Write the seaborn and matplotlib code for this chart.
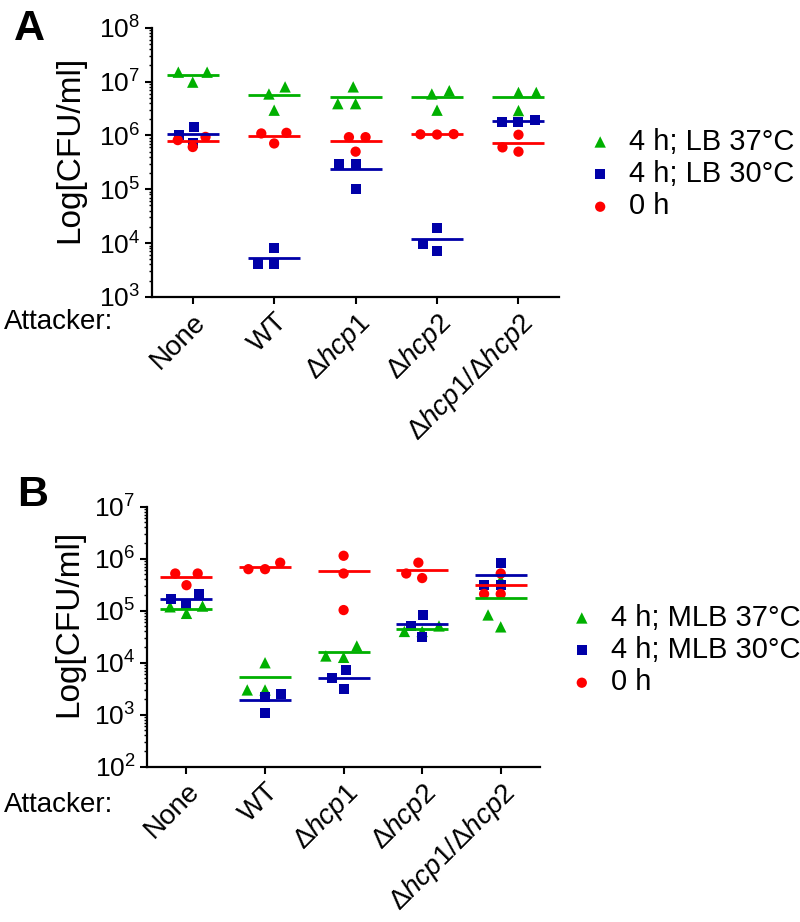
import numpy as np
import pandas as pd
import matplotlib
matplotlib.use("Agg")
import matplotlib.pyplot as plt
import matplotlib.transforms as mtransforms
import seaborn as sns
from matplotlib.ticker import LogLocator, NullFormatter, LogFormatterSciNotation

sns.set_theme(style="ticks")
plt.rcParams["font.family"] = ["Liberation Sans", "DejaVu Sans"]
plt.rcParams["mathtext.fontset"] = "custom"
plt.rcParams["mathtext.rm"] = "Liberation Sans"
plt.rcParams["mathtext.it"] = "Liberation Sans:italic"
for k in ["text.color", "axes.labelcolor", "xtick.color", "ytick.color", "axes.edgecolor"]:
    plt.rcParams[k] = "black"

# ---------------- data ----------------
strains = ["None", "WT", "dhcp1", "dhcp2", "dhcp1/dhcp2"]
tick_labels = ["None", "WT", r"Δ$\mathit{hcp1}$", r"Δ$\mathit{hcp2}$",
               r"Δ$\mathit{hcp1}$/Δ$\mathit{hcp2}$"]

# Panel A (LB)
a_37 = [[1.5e7, 9.8e6, 1.5e7], [2.95e6, 8.0e6, 5.9e6], [3.9e6, 3.9e6, 8.0e6],
        [5.9e6, 6.8e6, 2.95e6], [6.3e6, 2.9e6, 6.3e6]]
a_30 = [[1.04e6, 1.44e6, 7.1e5], [8.0e3, 4.0e3, 4.0e3], [3.0e5, 1.0e5, 3.0e5],
        [7.0e3, 1.89e4, 9.8e3], [1.95e6, 1.81e6, 1.81e6]]
a_0 = [[8.2e5, 6.1e5, 9.4e5], [1.09e6, 7.1e5, 1.12e6], [9.3e5, 9.3e5, 5.0e5],
       [1.05e6, 1.04e6, 1.06e6], [1.03e6, 5.0e5, 6.0e5]]

# Panel B (MLB)
b_37 = [[1.19e5, 8.9e4, 1.23e5], [3.0e3, 1.0e4, 3.0e3], [1.35e4, 1.27e4, 2.1e4],
        [4.0e4, 4.0e4, 5.1e4], [4.9e4, 8.3e4, 3.9e5]]
b_30 = [[1.70e5, 2.1e5, 1.35e5], [2.5e3, 1.1e3, 2.2e3], [3.1e3, 5.1e3, 7.2e3],
        [5.2e4, 8.3e4, 3.1e4], [3.1e5, 8.4e5, 3.1e5]]
b_0 = [[5.2e5, 3.1e5, 5.2e5], [6.3e5, 6.3e5, 8.4e5], [1.14e6, 5.2e5, 1.03e5],
       [8.4e5, 4.25e5, 5.2e5], [2.1e5, 5.2e5, 2.1e5]]

labels_a = ["4 h; LB 37°C", "4 h; LB 30°C", "0 h"]
labels_b = ["4 h; MLB 37°C", "4 h; MLB 30°C", "0 h"]

colors = ["#00B000", "#0000A8", "#FF0000"]
markers = ["^", "s", "o"]
msizes = [8.2, 7.2, 7.4]


def to_df(series):
    rows = []
    for s, vals in zip(strains, series):
        for v in vals:
            rows.append({"strain": s, "value": v})
    return pd.DataFrame(rows)


fig = plt.figure(figsize=(8.0, 9.22), dpi=100)
axA = fig.add_axes([0.19, 0.678, 0.509, 0.2918])
axB = fig.add_axes([0.184, 0.1684, 0.491, 0.282])


def draw_panel(ax, series_list, labels, ylim, leg_xy):
    for series, c, m, ms, lab in zip(series_list, colors, markers, msizes, labels):
        df = to_df(series)
        sns.swarmplot(data=df, x="strain", y="value", order=strains, color=c,
                      marker=m, size=ms, linewidth=4.0, edgecolor="none",
                      ax=ax, zorder=3, label=lab)
        sns.pointplot(data=df, x="strain", y="value", order=strains,
                      estimator="mean", errorbar=None, color=c,
                      linestyle="none", marker="_", markersize=38,
                      markeredgewidth=2.0, ax=ax, zorder=4)
    ax.set_yscale("log")
    ax.set_ylim(*ylim)
    ax.set_xlim(-0.5, 4.5)
    ax.yaxis.set_major_locator(LogLocator(base=10, numticks=20))
    ax.yaxis.set_minor_locator(LogLocator(base=10, subs=np.arange(2, 10), numticks=100))
    ax.yaxis.set_minor_formatter(NullFormatter())
    ax.yaxis.set_major_formatter(LogFormatterSciNotation())
    ax.set_xticks(range(len(strains)))
    ax.set_xticklabels(tick_labels, rotation=45, ha="right",
                       rotation_mode="anchor", fontsize=20)
    shift = mtransforms.ScaledTranslation(-6 / 100, 11 / 100, fig.dpi_scale_trans)
    for t in ax.get_xticklabels():
        t.set_transform(t.get_transform() + shift)
    ax.tick_params(axis="y", labelsize=19)
    ax.tick_params(axis="both", which="major", length=5, width=1.5, color="black")
    ax.tick_params(axis="y", which="minor", length=2.5, width=1.0, color="black")
    ax.set_xlabel("")
    ax.set_ylabel("Log[CFU/ml]", fontsize=24)
    for sp in ["left", "bottom"]:
        ax.spines[sp].set_linewidth(1.6)
    sns.despine(ax=ax)
    # legend: one entry per series
    h, l = ax.get_legend_handles_labels()
    uniq = dict(zip(l, h))
    ax.legend([uniq[k] for k in labels], labels, loc="center left",
              bbox_to_anchor=leg_xy, bbox_transform=fig.transFigure,
              frameon=False, fontsize=21, handlelength=1.0, handletextpad=0.5,
              labelspacing=0.15, borderpad=0, borderaxespad=0, markerscale=1.0)


draw_panel(axA, [a_37, a_30, a_0], labels_a, (1e3, 1e8), (0.732, 1 - 174 / 922))
draw_panel(axB, [b_37, b_30, b_0], labels_b, (1e2, 1e7), (0.709, 1 - 650 / 922))

axA.yaxis.set_label_coords(-0.165, 0.55)
axB.yaxis.set_label_coords(-0.16, 0.55)

fig.text(4 / 800, 1 - 322 / 922, "Attacker:", fontsize=20, ha="left", va="center")
fig.text(4 / 800, 1 - 805 / 922, "Attacker:", fontsize=20, ha="left", va="center")
fig.text(14 / 800, 1 - 29 / 922, "A", fontsize=31, fontweight="bold", ha="left", va="center")
fig.text(17 / 800, 1 - 495 / 922, "B", fontsize=31, fontweight="bold", ha="left", va="center")

fig.savefig("out.png", dpi=100)
